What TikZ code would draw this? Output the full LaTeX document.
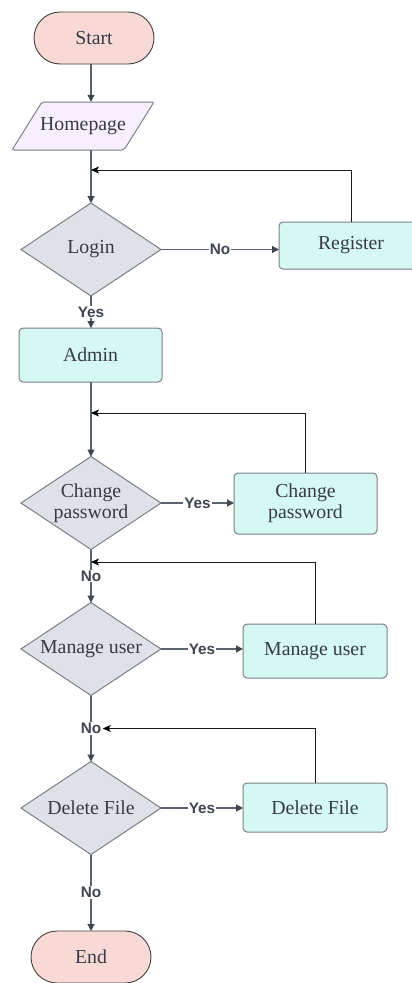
\documentclass[tikz,border=0pt]{standalone}
\usepackage{fontspec}
\setmainfont{Liberation Serif}
\newfontfamily\lblfont{Liberation Sans}
\usetikzlibrary{arrows.meta,shapes.geometric,shapes.misc}

\definecolor{termfill}{HTML}{F8D9D5}
\definecolor{iofill}{HTML}{F7EFFD}
\definecolor{decfill}{HTML}{DFE1E6}
\definecolor{procfill}{HTML}{D6F8F2}
\definecolor{edgecol}{HTML}{7A7F88}
\definecolor{linecol}{HTML}{5B6170}
\definecolor{tipcol}{HTML}{3F4551}
\definecolor{txtcol}{HTML}{363B45}

\tikzset{
  txt/.style={font=\fontsize{19.8}{21}\selectfont, text=txtcol},
  term/.style={rounded rectangle, draw=black!75, line width=0.9pt, fill=termfill,
    minimum width=120pt, minimum height=52pt, inner sep=0pt, outer sep=0pt, txt},
  dec/.style={diamond, draw=edgecol, line width=1pt, fill=decfill,
    minimum width=140pt, minimum height=93pt, inner sep=0pt, outer sep=0pt},
  declbl/.style={txt, align=center},
  proc/.style={rectangle, rounded corners=4pt, draw=edgecol, line width=1pt,
    fill=procfill, minimum width=144pt, inner sep=0pt, outer sep=0pt, txt, align=center},
  conn/.style={draw=linecol, line width=1.1pt,
    -{Triangle[length=7pt,width=7pt,color=tipcol]}},
  fb/.style={draw=black!90, line width=0.9pt,
    -{Stealth[length=8pt,width=7pt,inset=2pt,color=black]}},
  lbl/.style={fill=white, inner sep=1pt, text=tipcol,
    font=\lblfont\bfseries\fontsize{15.3}{17}\selectfont},
}

\begin{document}
\begin{tikzpicture}[x=1pt,y=-1pt]
\useasboundingbox (0,0) rectangle (412,983);

% terminals
\node[term] (start) at (94,38) {Start};
\node[term] (end) at (91,957) {End};

% input page
\node[minimum width=141pt, minimum height=48pt, inner sep=0pt] (home) at (83,126) {};
\draw[draw=edgecol, line width=1pt, fill=iofill, rounded corners=2pt]
  (42,102) -- (154,102) -- (124,150) -- (12,150) -- cycle;
\node[txt] (homeT) at (home) {Homepage};

% decisions
\node[dec] (login) at (91,249.5) {};
\node[declbl] (loginT) at (login) {Login};
\node[dec] (cpd) at (91,503) {};
\node[declbl] (cpdT) at (cpd) {Change\\password};
\node[dec] (mud) at (91,649) {};
\node[declbl] (mudT) at (mud) {Manage user};
\node[dec] (dfd) at (91,808) {};
\node[declbl] (dfdT) at (dfd) {Delete File};

% processes
\node[proc, minimum height=47pt] (reg) at (351,245.5) {Register};
\node[proc, minimum width=143pt, minimum height=54pt] (admin) at (90.5,355) {Admin};
\node[proc, minimum width=143pt, minimum height=61pt] (cpb) at (305.5,503.5) {Change\\password};
\node[proc, minimum height=54pt] (mub) at (315,651) {Manage user};
\node[proc, minimum height=49pt] (dfb) at (315,807.5) {Delete File};

% junctions on the main axis
\coordinate (j1) at (91,170);
\coordinate (j2) at (91,413);
\coordinate (j3) at (91,562);

% main flow
\draw[conn] (start.south -| login) -- (home.north -| login);
\draw[conn] (home.south -| login) -- (login.north);
\draw[conn] (login.east) -- node[lbl] (no1) {No} (login.east -| reg.west);
\draw[conn] (login.south) -- node[lbl] (yes1) {Yes} (admin.north -| login);
\draw[conn] (admin.south -| login) -- (cpd.north);
\draw[conn] (cpd.east) -- node[lbl] (yes2) {Yes} (cpd.east -| cpb.west);
\draw[conn] (cpd.south) -- node[lbl] (no2) {No} (mud.north);
\draw[conn] (mud.east) -- node[lbl] (yes3) {Yes} (mud.east -| mub.west);
\draw[conn] (mud.south) -- node[lbl] (no3) {No} (dfd.north);
\draw[conn] (dfd.east) -- node[lbl] (yes4) {Yes} (dfd.east -| dfb.west);
\draw[conn] (dfd.south) -- node[lbl] (no4) {No} (end.north);

% return paths
\draw[fb] (reg.north) |- (j1);
\draw[fb] (cpb.north) |- (j2);
\draw[fb] (mub.north) |- (j3);
\draw[fb] (dfb.north) |- (no3.east);
\end{tikzpicture}
\end{document}
